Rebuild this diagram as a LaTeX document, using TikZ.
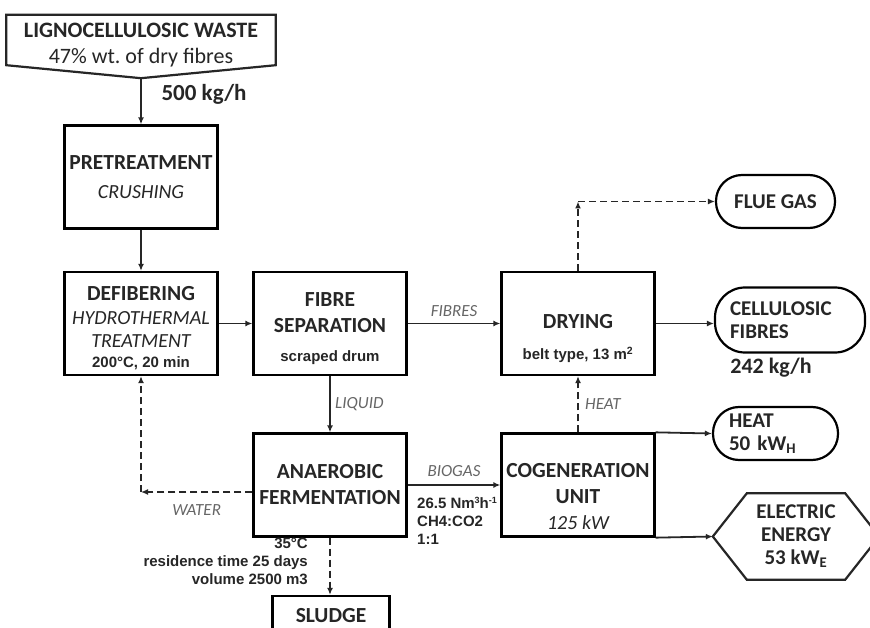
\documentclass[tikz,border=0pt]{standalone}
\usepackage{fontspec}
\setmainfont{Carlito}
\newfontfamily\arialfont{Liberation Sans}
\usepackage{tikz}
\usetikzlibrary{arrows.meta,positioning}

\newcommand{\unitdata}[1]{{\arialfont\fontsize{15}{18}\selectfont #1}}
\newcommand{\tinysup}[1]{\raisebox{5.5pt}{\fontsize{9}{9}\selectfont #1}}

\begin{document}
\begin{tikzpicture}[x=1pt, y=-1pt,
    unit/.style={draw, line width=2.3pt, minimum width=153pt, minimum height=103pt, inner sep=0pt, align=center, text=black!85, font=\bfseries\fontsize{21.5}{26}\selectfont},
    product/.style={draw, line width=2.2pt, rounded corners=26pt, minimum height=53pt, inner sep=0pt, text=black!85, font=\bfseries\fontsize{21}{23}\selectfont},
    arrow/.style={-{Latex[length=7pt, width=6pt]}, line width=1.8pt, black!85},
    dasharrow/.style={arrow, dash pattern=on 7pt off 4pt},
    stream/.style={font=\itshape\fontsize{17}{20}\selectfont, text=black!60},
    note/.style={font=\arialfont\bfseries\fontsize{15}{18}\selectfont, text=black!85, inner sep=0pt}
]
\clip (0,0) rectangle (870,628);
\fill[white] (0,0) rectangle (870,628);

% Feed
\node[minimum width=269pt, minimum height=60pt, inner sep=0pt, align=center, text=black!85, font=\fontsize{22}{26}\selectfont] (src) at (141,45) {\textbf{LIGNOCELLULOSIC WASTE}\\47\% wt.\ of dry fibres};
\draw[line width=2.2pt, black!85] (src.north west) -- (src.north east) -- ([yshift=10pt]src.south east) -- ([yshift=-3pt]src.south) -- ([yshift=10pt]src.south west) -- cycle;
\node[anchor=west, text=black!85, font=\bfseries\fontsize{23}{26}\selectfont] (feed) at (158,94) {500 kg/h};

% Units
\node[unit] (pre) at (141,177) {PRETREATMENT\\[3pt]{\mdseries\itshape\fontsize{20}{26}\selectfont CRUSHING}};
\node[unit] (defib) at (141,323.5) {\rule{0pt}{24pt}DEFIBERING\\[-2pt]{\mdseries\itshape\fontsize{20}{26}\selectfont HYDROTHERMAL}\\[-3pt]{\mdseries\itshape\fontsize{20}{26}\selectfont TREATMENT}\\[-6pt]\unitdata{200°C, 20 min}};
\node[unit] (sep) at (330,323.5) {\rule{0pt}{24pt}FIBRE\\SEPARATION\\[3pt]\unitdata{scraped drum}};
\node[unit] (dry) at (578,323.5) {\rule{0pt}{44pt}DRYING\\[5pt]\unitdata{belt type, 13 m\textsuperscript{2}}};
\node[unit] (anae) at (330,485) {ANAEROBIC\\FERMENTATION};
\node[unit] (cogen) at (578,485) {\rule{0pt}{37pt}COGENERATION\\UNIT\\{\mdseries\itshape\fontsize{20}{26}\selectfont 125 kW}};
\node[unit, minimum width=117pt, minimum height=40pt] (sludge) at (331,616) {SLUDGE};

% Products
\node[product, minimum width=119pt] (flue) at (775.5,201.5) {FLUE GAS};
\node[product, minimum width=150pt, minimum height=65pt, rounded corners=30pt, text width=120pt, align=left] (cell) at (790,320) {CELLULOSIC\\FIBRES};
\node[anchor=north, text=black!85, font=\bfseries\fontsize{22}{26}\selectfont] (yield) at (771,355) {242 kg/h};
\node[product, minimum width=125pt, text width=93pt, align=left] (heat) at (775.5,433.5) {HEAT\\50 kW\textsubscript{H}};
\node[minimum width=166pt, minimum height=86pt, inner sep=0pt, align=center, text=black!85, font=\bfseries\fontsize{21}{23}\selectfont] (elec) at (796,536.5) {ELECTRIC\\ENERGY\\53 kW\textsubscript{E}};
\draw[line width=2.2pt, black!85] (elec.west) -- ([xshift=34pt]elec.north west) -- ([xshift=-34pt]elec.north east) -- (elec.east) -- ([xshift=-34pt]elec.south east) -- ([xshift=34pt]elec.south west) -- cycle;

% Data
\node[note, anchor=north west, align=left] (gasdata) at (417,497) {26.5 Nm\tinysup{3}h\tinysup{-1}\\CH4:CO2\\1:1};
\node[note, anchor=north east, align=right] (ferdata) at (308,538) {35°C\\residence time 25 days\\volume 2500 m3};

% Arrows
\draw[arrow] ([yshift=-3pt]src.south) -- (pre.north);
\draw[arrow] (pre.south) -- (defib.north);
\draw[arrow] (defib.east) -- (sep.west);
\draw[arrow] (sep.east) -- node[stream, above=3pt] {FIBRES} (dry.west);
\draw[arrow] (dry.east) -- (dry.east -| cell.west);
\draw[arrow] (sep.south) -- node[stream, right=1pt] {LIQUID} (anae.north);
\draw[arrow] (anae.east) -- node[stream, above=4pt] {BIOGAS} (cogen.west);
\draw[arrow] (cogen.north east) -- (heat.west);
\draw[arrow] (cogen.south east) -- (elec.west);

% Dashed streams
\coordinate (fluecorner) at (dry.north |- flue.west);
\draw[dasharrow] (dry.north) -- (fluecorner);
\draw[dasharrow] (fluecorner) -- (flue.west);
\coordinate (waterout) at ([yshift=-7pt]anae.west);
\coordinate (watercorner) at (defib.south |- waterout);
\draw[dasharrow] (waterout) -- node[stream, below=8pt] {WATER} (watercorner);
\draw[dasharrow] (watercorner) -- (defib.south);
\draw[dasharrow] (cogen.north) -- node[stream, right=3pt] {HEAT} (dry.south);
\draw[dasharrow] (anae.south) -- (anae.south |- sludge.north);

\end{tikzpicture}
\end{document}
